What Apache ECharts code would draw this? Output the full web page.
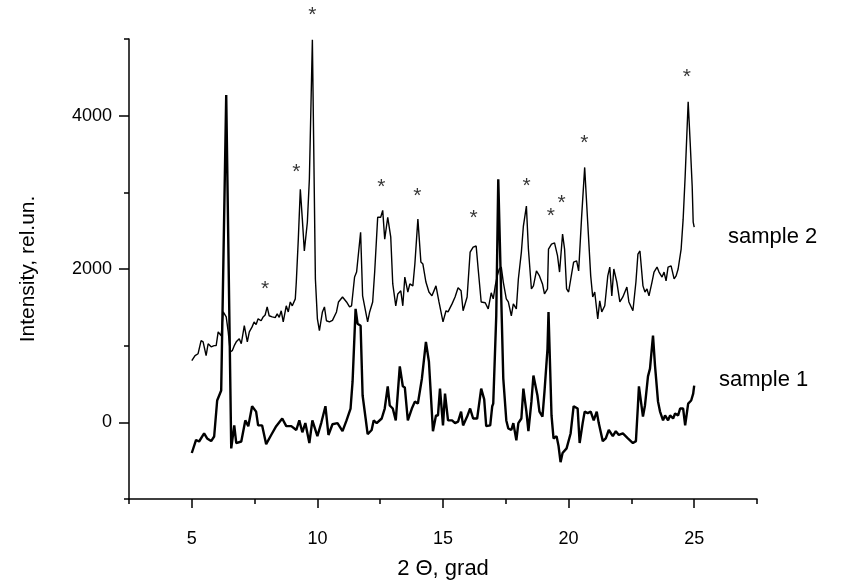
<!DOCTYPE html>
<html>
<head>
<meta charset="utf-8">
<script src="https://cdn.jsdelivr.net/npm/echarts@6/dist/echarts.min.js"></script>
<style>
html,body{margin:0;padding:0;background:#fff;}
#chart{width:845px;height:585px;}
</style>
</head>
<body>
<div id="chart"></div>
<script>
// ---- data ----
const sample1X = [5.00,5.17,5.29,5.49,5.61,5.77,5.89,6.01,6.17,6.37,6.57,6.69,6.77,6.97,7.13,7.25,7.40,7.56,7.64,7.80,7.96,8.16,8.36,8.60,8.76,8.96,9.16,9.28,9.40,9.52,9.68,9.80,10.00,10.16,10.32,10.44,10.60,10.80,11.00,11.16,11.32,11.40,11.52,11.60,11.72,11.80,11.92,12.00,12.16,12.24,12.36,12.56,12.68,12.80,12.88,13.00,13.12,13.28,13.40,13.48,13.60,13.76,13.88,14.00,14.16,14.32,14.44,14.60,14.72,14.80,14.88,15.00,15.08,15.20,15.36,15.48,15.60,15.72,15.80,15.96,16.08,16.20,16.36,16.52,16.64,16.72,16.88,16.96,17.00,17.12,17.20,17.40,17.52,17.60,17.72,17.80,17.92,18.00,18.12,18.20,18.32,18.40,18.52,18.60,18.76,18.84,18.96,19.04,19.16,19.20,19.32,19.40,19.52,19.60,19.68,19.76,19.92,20.08,20.20,20.36,20.44,20.56,20.64,20.76,20.88,21.00,21.12,21.20,21.36,21.48,21.60,21.76,21.88,22.00,22.16,22.36,22.56,22.68,22.76,22.80,22.96,23.04,23.16,23.24,23.36,23.44,23.56,23.64,23.76,23.84,23.96,24.04,24.16,24.24,24.36,24.44,24.56,24.64,24.76,24.88,24.96,25.00];
const sample1Y = [-400,-230,-250,-145,-210,-245,-185,285,415,4270,-340,-40,-270,-250,25,-50,210,140,-40,-40,-285,-165,-50,50,-50,-50,-100,25,-130,-10,-270,25,-180,0,210,-165,-25,-10,-115,25,180,530,1480,1285,1260,350,50,-155,-100,25,-10,50,180,470,220,180,25,730,470,455,25,180,270,245,570,1050,790,-115,90,90,440,-40,375,25,25,-10,10,140,-40,75,180,50,50,440,300,-50,-40,210,245,1390,3170,570,25,-80,-100,-10,-235,-10,50,440,140,-115,270,610,350,140,75,400,960,1440,90,-210,-180,-310,-520,-400,-340,-145,210,180,-270,-10,140,120,140,25,140,-10,-245,-210,-100,-180,-115,-165,-145,-210,-270,-245,220,470,75,220,600,700,1130,740,270,140,25,90,25,90,50,115,90,180,180,-40,245,285,375,480];

const sample2X = [5.00,5.13,5.25,5.37,5.45,5.57,5.65,5.77,5.89,5.97,6.05,6.17,6.25,6.37,6.45,6.53,6.61,6.69,6.77,6.89,6.97,7.09,7.21,7.29,7.40,7.48,7.56,7.64,7.76,7.84,7.92,8.00,8.08,8.20,8.32,8.40,8.48,8.56,8.64,8.76,8.84,8.92,9.00,9.12,9.16,9.24,9.32,9.40,9.48,9.60,9.68,9.80,9.92,10.00,10.08,10.20,10.28,10.36,10.48,10.60,10.76,10.84,11.00,11.16,11.28,11.36,11.48,11.56,11.72,11.80,12.00,12.08,12.20,12.28,12.40,12.52,12.60,12.68,12.80,12.92,13.00,13.12,13.20,13.32,13.40,13.48,13.60,13.68,13.80,13.88,14.00,14.12,14.20,14.32,14.44,14.56,14.72,14.84,15.00,15.12,15.20,15.36,15.48,15.60,15.72,15.80,15.96,16.08,16.20,16.32,16.40,16.52,16.68,16.80,16.92,17.00,17.08,17.16,17.24,17.32,17.40,17.52,17.60,17.72,17.80,17.92,18.00,18.12,18.20,18.32,18.40,18.52,18.60,18.72,18.84,18.96,19.04,19.16,19.20,19.32,19.44,19.56,19.64,19.76,19.84,19.92,20.00,20.12,20.20,20.32,20.40,20.52,20.64,20.76,20.88,20.96,21.04,21.16,21.24,21.32,21.44,21.56,21.64,21.72,21.80,21.92,22.04,22.16,22.32,22.40,22.56,22.68,22.76,22.84,22.96,23.04,23.12,23.20,23.32,23.40,23.52,23.60,23.72,23.80,23.88,23.96,24.08,24.20,24.28,24.36,24.48,24.56,24.64,24.76,24.84,24.92,24.96,25.00];
const sample2Y = [805,870,895,1065,1050,870,1025,985,1000,1000,1180,1130,1440,1375,1180,920,935,1000,1050,1090,1025,1260,1050,1180,1245,1310,1275,1350,1325,1375,1400,1505,1390,1375,1365,1415,1370,1455,1310,1520,1440,1570,1520,1610,1830,2390,3040,2650,2235,2610,3170,4990,1870,1350,1195,1440,1505,1325,1310,1330,1440,1570,1635,1570,1505,1520,1895,1960,2480,1650,1310,1440,1570,1960,2675,2675,2765,2390,2675,2415,1805,1520,1675,1715,1520,1895,1700,1805,1780,2065,2650,2090,2065,1830,1700,1650,1780,1570,1310,1455,1440,1545,1635,1755,1715,1455,1635,2220,2285,2300,2000,1570,1560,1480,1690,1610,1780,1910,2000,2025,1830,1610,1570,1390,1545,1480,1870,2220,2560,2820,2260,1740,1780,1975,1910,1805,1675,1740,2260,2325,2340,2170,1960,2455,2260,1740,1700,1935,2090,2105,1975,2690,3325,2610,1910,1635,1700,1350,1585,1440,1520,1910,2025,1650,2000,1830,1570,1635,1765,1570,1455,1830,2195,2235,1780,1700,1740,1650,1830,1960,2025,1960,1895,1960,1845,2025,2040,1870,1910,2000,2260,2650,3210,4180,3650,3080,2610,2545];

// asterisk annotations over the sample 2 peaks
const starX = [7.92,9.16,9.80,12.55,13.98,16.22,18.33,19.29,19.72,20.63,24.71];
const starY = [1740,3260,5312,3065,2948,2662,3078,2688,2857,3636,4506];

// axis ticks
const xMajorTicks = [5,10,15,20,25];
const xMinorTicks = [2.5,7.5,12.5,17.5,22.5,27.5];
const yMajorTicks = [0,2000,4000];
const yMinorTicks = [-1000,1000,3000,5000];

const seriesNames = ['sample 1','sample 2'];
const axisTitleX = '2 \u0398, grad';
const axisTitleY = 'Intensity, rel.un.';

// ---- chart ----
const zip = (xs, ys) => xs.map((x, i) => [x, ys[i]]);
const FONT = 'Liberation Sans, Arial, Helvetica, sans-serif';
const chart = echarts.init(document.getElementById('chart'), null, {renderer: 'canvas'});

const axisLineStyle = {color: '#000', width: 1.5};

chart.setOption({
  animation: false,
  backgroundColor: '#fff',
  grid: {left: 129, right: 88, top: 39, bottom: 83, containLabel: false},
  xAxis: [
    {
      type: 'value', min: 2.5, max: 27.5, position: 'bottom',
      axisLine: {show: true, onZero: false, lineStyle: axisLineStyle},
      axisTick: {show: true, inside: false, length: 9, customValues: xMajorTicks, lineStyle: axisLineStyle},
      axisLabel: {show: true, customValues: xMajorTicks, margin: 31, color: '#000', fontSize: 18, fontFamily: FONT,
        formatter: v => String(v)},
      splitLine: {show: false},
      name: axisTitleX, nameLocation: 'middle', nameGap: 59,
      nameTextStyle: {color: '#000', fontSize: 22, fontFamily: FONT}
    },
    {
      type: 'value', min: 2.5, max: 27.5, position: 'bottom',
      axisLine: {show: false, onZero: false},
      axisTick: {show: true, inside: false, length: 5, customValues: xMinorTicks, lineStyle: axisLineStyle},
      axisLabel: {show: false},
      splitLine: {show: false}
    }
  ],
  yAxis: [
    {
      type: 'value', min: -1000, max: 5000, position: 'left',
      axisLine: {show: true, onZero: false, lineStyle: axisLineStyle},
      axisTick: {show: true, inside: false, length: 10, customValues: yMajorTicks, lineStyle: axisLineStyle},
      axisLabel: {show: true, customValues: yMajorTicks, margin: 17, color: '#000', fontSize: 18, fontFamily: FONT,
        formatter: v => String(v)},
      splitLine: {show: false},
      name: axisTitleY, nameLocation: 'middle', nameGap: 90, nameRotate: 90,
      nameTextStyle: {color: '#000', fontSize: 21, fontFamily: FONT}
    },
    {
      type: 'value', min: -1000, max: 5000, position: 'left',
      axisLine: {show: false, onZero: false},
      axisTick: {show: true, inside: false, length: 5, customValues: yMinorTicks, lineStyle: axisLineStyle},
      axisLabel: {show: false},
      splitLine: {show: false}
    }
  ],
  series: [
    {
      name: seriesNames[0], type: 'line', xAxisIndex: 0, yAxisIndex: 0,
      data: zip(sample1X, sample1Y), showSymbol: false, symbol: 'none',
      lineStyle: {color: '#000', width: 2.4}, clip: false
    },
    {
      name: seriesNames[1], type: 'line', xAxisIndex: 0, yAxisIndex: 0,
      data: zip(sample2X, sample2Y), showSymbol: false, symbol: 'none',
      lineStyle: {color: '#000', width: 1.4}, clip: false
    },
    {
      name: 'peaks', type: 'scatter', xAxisIndex: 0, yAxisIndex: 0,
      data: zip(starX, starY), symbolSize: 1, itemStyle: {color: 'rgba(0,0,0,0)'},
      clip: false, silent: true,
      label: {show: true, position: 'inside', formatter: '*', color: '#000', fontSize: 21, fontFamily: FONT}
    }
  ],
  graphic: [
    {type: 'text', left: 728, top: 226, style: {text: seriesNames[1], fontSize: 22, fontFamily: FONT, fill: '#000'}},
    {type: 'text', left: 719, top: 369, style: {text: seriesNames[0], fontSize: 22, fontFamily: FONT, fill: '#000'}}
  ]
});
</script>
</body>
</html>
